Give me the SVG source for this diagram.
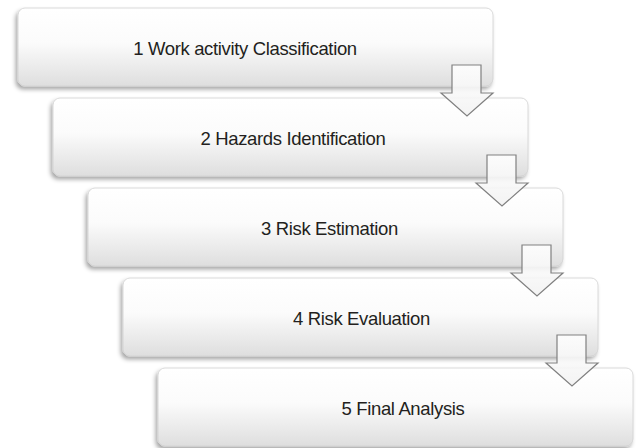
<svg xmlns="http://www.w3.org/2000/svg" width="636" height="448" viewBox="0 0 636 448">
  <defs>
    <linearGradient id="boxGrad" x1="0" y1="0" x2="0" y2="1">
      <stop offset="0" stop-color="#ffffff"/>
      <stop offset="0.45" stop-color="#fbfbfb"/>
      <stop offset="1" stop-color="#dedede"/>
    </linearGradient>
    <linearGradient id="arrowGrad" x1="0" y1="0" x2="0" y2="1">
      <stop offset="0" stop-color="#ffffff" stop-opacity="0.85"/>
      <stop offset="1" stop-color="#f2f2f2" stop-opacity="0.9"/>
    </linearGradient>
    <filter id="shadow" x="-5%" y="-10%" width="110%" height="130%">
      <feDropShadow dx="-2" dy="3" stdDeviation="2" flood-color="#000" flood-opacity="0.35"/>
    </filter>
  </defs>
  <style>
    .box { fill: url(#boxGrad); stroke: #d0d0d0; stroke-width: 0.8; filter: url(#shadow); }
    .label { font-family: "Liberation Sans", Arial, sans-serif; font-size: 18.5px; fill: #231f20; text-anchor: middle; letter-spacing: -0.35px; }
    .arrow { fill: url(#arrowGrad); stroke: #808080; stroke-width: 1.2; stroke-linejoin: miter; }
  </style>
  <rect width="636" height="448" fill="#ffffff"/>

  <g id="node1">
    <rect class="box" x="18" y="8" width="475" height="78" rx="7"/>
    <text class="label" x="245" y="54.5">1 Work activity Classification</text>
  </g>
  <g id="node2">
    <rect class="box" x="53" y="98" width="475" height="78" rx="7"/>
    <text class="label" x="293" y="144.5">2 Hazards Identification</text>
  </g>
  <g id="node3">
    <rect class="box" x="88" y="188" width="475" height="78" rx="7"/>
    <text class="label" x="329.5" y="234.5">3 Risk Estimation</text>
  </g>
  <g id="node4">
    <rect class="box" x="123" y="278" width="475" height="78" rx="7"/>
    <text class="label" x="361.5" y="324.5">4 Risk Evaluation</text>
  </g>
  <g id="node5">
    <rect class="box" x="158" y="368" width="475" height="78" rx="7"/>
    <text class="label" x="403" y="414.5">5 Final Analysis</text>
  </g>

  <g id="connectors">
    <path class="arrow" d="M452,65 H481 V93 H493 L467,116 L441,93 H452 Z"/>
    <path class="arrow" d="M487,155 H516 V183 H528 L502,206 L476,183 H487 Z"/>
    <path class="arrow" d="M522,245 H551 V273 H563 L537,296 L511,273 H522 Z"/>
    <path class="arrow" d="M557,335 H586 V363 H598 L572,386 L546,363 H557 Z"/>
  </g>
</svg>
